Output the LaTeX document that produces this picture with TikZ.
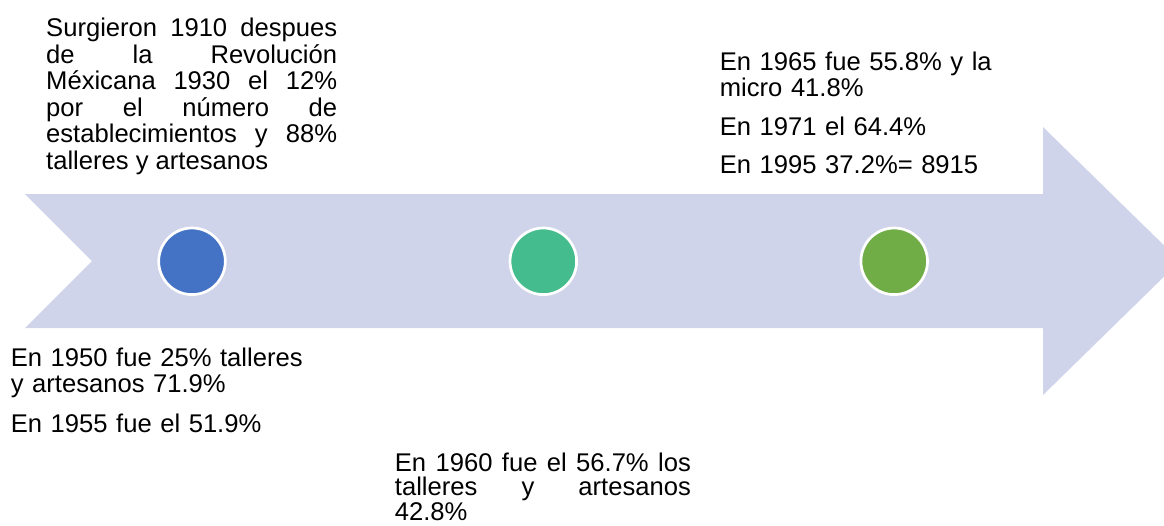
\documentclass[tikz,border=0pt]{standalone}
\usepackage{fontspec}
\setmainfont{Liberation Sans}
\usepackage{xcolor}
\definecolor{banda}{HTML}{CFD4EA}
\definecolor{azul}{HTML}{4472C4}
\definecolor{verdeagua}{HTML}{44BC8D}
\definecolor{verde}{HTML}{70AD47}
\usetikzlibrary{positioning}
\tolerance=10000

\begin{document}
\begin{tikzpicture}[x=1pt,y=-1pt,
			punto/.style={circle,draw=white,line width=2.7pt,minimum size=66.6pt,inner sep=0pt},
			texto/.style={anchor=base west,inner sep=0pt,font=\fontsize{25.6}{26.5}\selectfont},
			]
			\useasboundingbox (0,0) rectangle (1164,525);
			\fill[banda] (25,194) -- (1043,194) -- (1043,127) -- (1180,261) -- (1043,395)
				-- (1043,328) -- (25,328) -- (92,261) -- cycle;
			\foreach \c/\x in {azul/192,verdeagua/543.3,verde/894.2}
				\node[punto,fill=\c] (p\c) at (\x,261.3) {};
			
			\node[texto,text width=291pt,align=justify] (n1910) at (46,36.7)
				{Surgieron 1910 despues\linebreak de la Revolución\linebreak Méxicana 1930 el 12\%\linebreak
				por el número de\linebreak establecimientos y 88\%\linebreak talleres y artesanos};
			\node[texto,text width=320pt,align=left] (n1950) at (10.7,366)
				{En 1950 fue 25\% talleres\\ y artesanos 71.9\%\\[13pt] En 1955 fue el 51.9\%};
			\node[texto,text width=296pt,align=justify,font=\fontsize{25.6}{24.5}\selectfont] (n1960) at (394.7,471)
				{En 1960 fue el 56.7\% los\linebreak talleres y artesanos\linebreak 42.8\%};
			\node[texto,text width=290pt,align=left] (n1965) at (719.7,70)
				{En 1965 fue 55.8\% y la\\ micro 41.8\%\\[12pt] En 1971 el 64.4\%\\[12pt] En 1995 37.2\%= 8915};
			
		\end{tikzpicture}
\end{document}
